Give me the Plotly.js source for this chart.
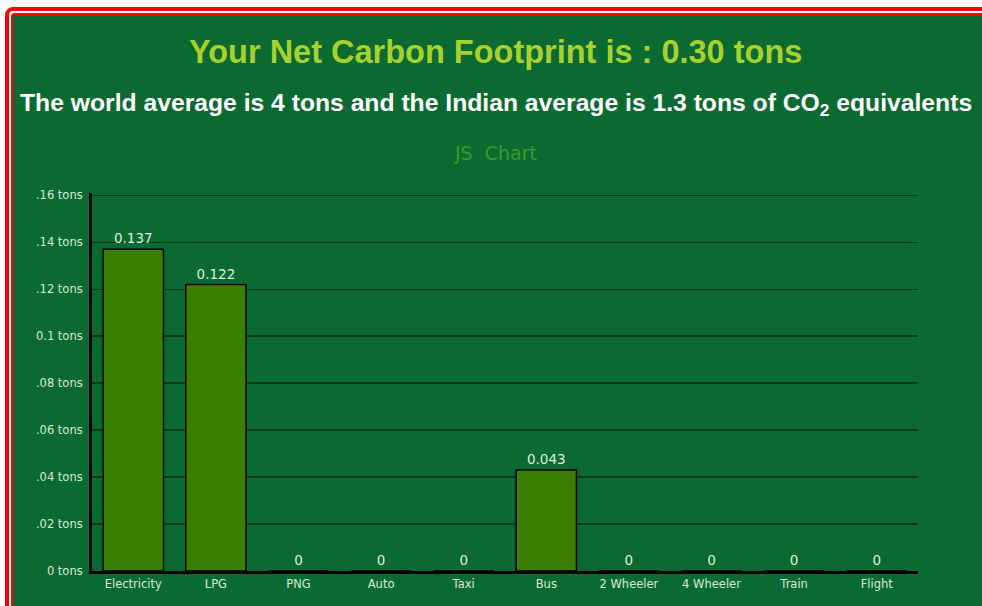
<!DOCTYPE html>
<html>
<head>
<meta charset="utf-8">
<script src="https://cdn.plot.ly/plotly-3.0.1.min.js"></script>
<style>
  html, body { margin:0; padding:0; background:#ffffff; width:982px; height:606px; overflow:hidden; }
  #frame { position:absolute; left:5px; top:7px; width:1010px; height:640px; border:4px solid #ff0000; border-radius:8px; background:#ffffff; padding:2px; box-sizing:border-box; }
  #inner { width:100%; height:100%; border:2px solid #ff0000; border-radius:4px; background:#0b6a31; box-sizing:border-box; }
  #chart { position:absolute; left:0; top:0; width:982px; height:606px; }
</style>
</head>
<body>
<div id="frame"><div id="inner"></div></div>
<div id="chart"></div>
<script>
const categories = ["Electricity", "LPG", "PNG", "Auto", "Taxi", "Bus", "2 Wheeler", "4 Wheeler", "Train", "Flight"];
const values = [0.137, 0.122, 0, 0, 0, 0.043, 0, 0, 0, 0];
const valueLabels = ["0.137", "0.122", "0", "0", "0", "0.043", "0", "0", "0", "0"];
const yTickVals = [0, 0.02, 0.04, 0.06, 0.08, 0.1, 0.12, 0.14, 0.16];
const yTickText = ["0 tons", ".02 tons", ".04 tons", ".06 tons", ".08 tons", "0.1 tons", ".12 tons", ".14 tons", ".16 tons"];
const mainTitle = "Your Net Carbon Footprint is : 0.30 tons";
const subTitle = "The world average is 4 tons and the Indian average is 1.3 tons of CO<sub>2</sub> equivalents";
const chartTitle = "JS  Chart";

const trace = {
  type: "bar",
  x: categories,
  y: values,
  text: valueLabels,
  texttemplate: "%{text}",
  textposition: "outside",
  cliponaxis: false,
  textfont: { family: "DejaVu Sans", size: 13.5, color: "#dff0df" },
  marker: { color: "#3a7f00", line: { color: "#000000", width: 1.5 } },
  hoverinfo: "none"
};

const layout = {
  width: 982, height: 606,
  margin: { l: 92, r: 64, t: 193, b: 35, pad: 0 },
  paper_bgcolor: "rgba(0,0,0,0)",
  plot_bgcolor: "rgba(0,0,0,0)",
  showlegend: false,
  bargap: 0.27,
  xaxis: {
    type: "category",
    range: [-0.5, 9.5],
    showgrid: false,
    showline: true, linecolor: "#000000", linewidth: 3,
    ticks: "", zeroline: false,
    tickfont: { family: "DejaVu Sans", size: 11.5, color: "#d8ecd8" },
    fixedrange: true
  },
  yaxis: {
    range: [0, 0.161],
    tickvals: yTickVals,
    ticktext: yTickText,
    showgrid: true, gridcolor: "#083a16", gridwidth: 1.5,
    showline: true, linecolor: "#000000", linewidth: 3,
    zeroline: false, ticks: "",
    ticklabelstandoff: 4,
    tickfont: { family: "DejaVu Sans", size: 11.5, color: "#d8ecd8" },
    fixedrange: true
  },
  annotations: [
    { xref: "paper", yref: "paper", x: 0.489, y: 1.373, xanchor: "center", yanchor: "middle", showarrow: false,
      text: "<b>" + mainTitle + "</b>", font: { family: "Liberation Sans, Arial", size: 32.5, color: "#a8d12e" } },
    { xref: "paper", yref: "paper", x: 0.489, y: 1.233, xanchor: "center", yanchor: "middle", showarrow: false,
      text: "<b>" + subTitle + "</b>", font: { family: "Liberation Sans, Arial", size: 24.7, color: "#ffffff" } },
    { xref: "paper", yref: "paper", x: 0.489, y: 1.106, xanchor: "center", yanchor: "middle", showarrow: false,
      text: chartTitle, font: { family: "DejaVu Sans", size: 19, color: "#3d9a2d" } }
  ]
};

Plotly.newPlot("chart", [trace], layout, { displayModeBar: false, staticPlot: true });
</script>
</body>
</html>
